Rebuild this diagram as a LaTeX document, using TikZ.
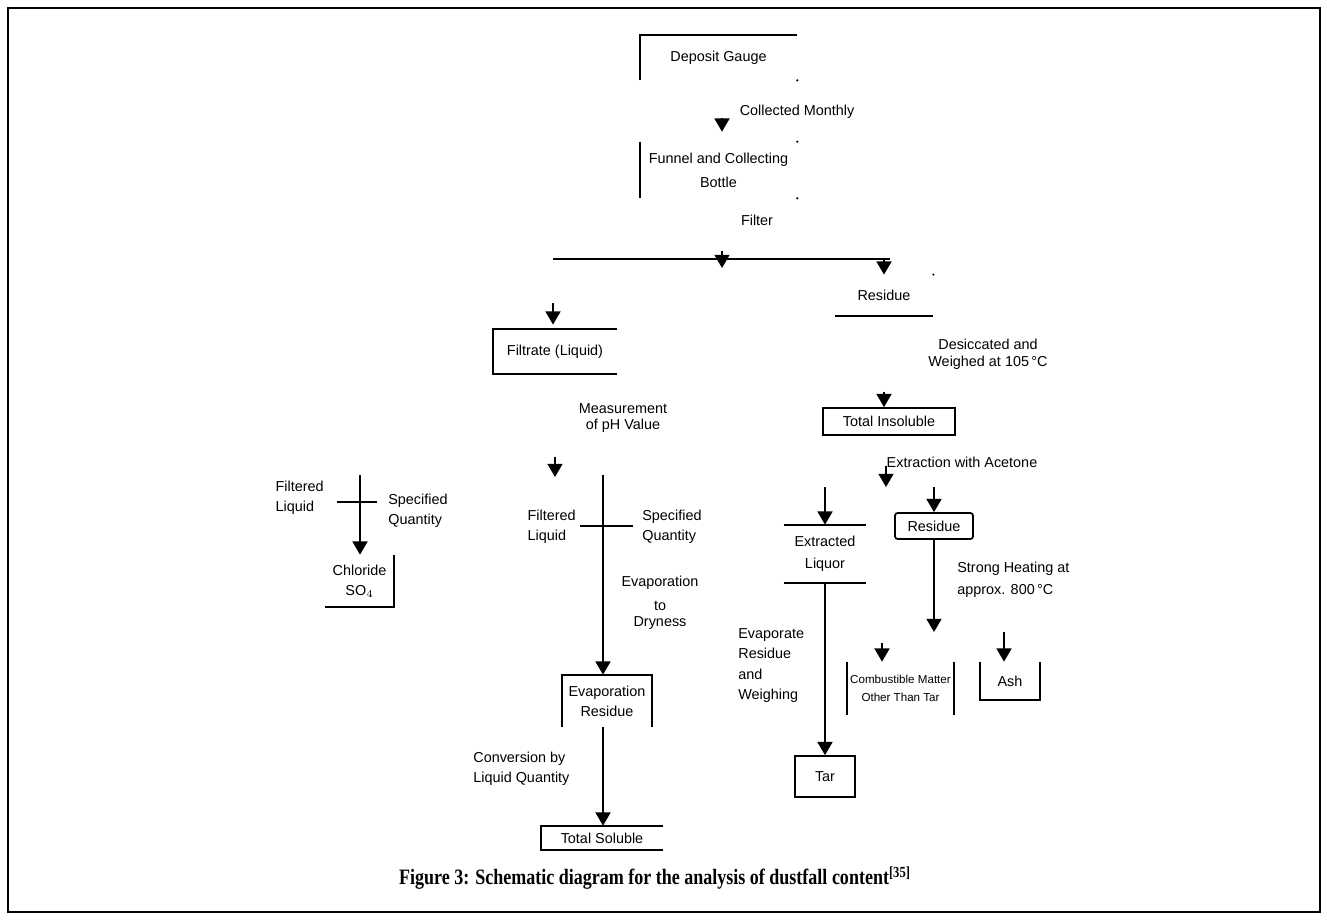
\documentclass[tikz,border=0pt]{standalone}
\usepackage{fontspec}
\setmainfont{Liberation Serif}
\setsansfont{Liberation Sans}
\newfontfamily\capfont[FakeStretch=0.82]{Liberation Serif}
\usetikzlibrary{arrows.meta,positioning,calc}

\begin{document}
\begin{tikzpicture}[x=0.02cm, y=-0.02cm, font=\sffamily\fontsize{8.2}{11.5}\selectfont,
    box/.style={inner sep=0pt, align=center},
    lbl/.style={inner sep=0pt, align=center},
    edge/.style={line width=1pt},
    arr/.style={line width=1pt, -{Triangle[width=8.5pt,length=7.5pt]}},
    stub/.style={arr, shorten <=#1}]
    \useasboundingbox (0,0) rectangle (1327,919);
    \draw[line width=0.8pt] (8,8) rectangle (1320,912);

    % boxes
    \node[box, minimum width=3.14cm, minimum height=0.9cm] (gauge) at (718.5,57.5) {Deposit Gauge};
    \node[box, minimum width=3.14cm, minimum height=1.12cm] (funnel) at (718.5,170) {Funnel and Collecting\\[2pt]Bottle};
    \node[box, minimum width=2.48cm, minimum height=0.9cm] (filtrate) at (555,351.5) {Filtrate (Liquid)};
    \node[box, minimum width=1.96cm, minimum height=0.82cm] (residue) at (884,295.5) {Residue};
    \node[box, draw, line width=1pt, minimum width=2.64cm, minimum height=0.54cm] (insol) at (889,421.5) {Total Insoluble};
    \node[box, minimum width=1.64cm, minimum height=1.16cm] (extract) at (825,554) {Extracted\\[1pt]Liquor};
    \node[box, draw, line width=1pt, rounded corners=1.5pt, minimum width=1.56cm, minimum height=0.52cm] (resid2) at (934,526) {Residue};
    \node[box, font=\sffamily\fontsize{6.6}{10.5}\selectfont, minimum width=2.14cm, minimum height=1.06cm] (combust) at (900.5,688.5) {Combustible Matter\\Other Than Tar};
    \node[box, minimum width=1.2cm, minimum height=0.76cm] (ash) at (1010,681) {Ash};
    \node[box, draw, line width=1pt, minimum width=1.2cm, minimum height=0.82cm] (tar) at (825,776.5) {Tar};
    \node[box, minimum width=1.8cm, minimum height=1.04cm] (evapres) at (607,701) {Evaporation\\Residue};
    \node[box, minimum width=2.44cm, minimum height=0.48cm] (total) at (602,838) {Total Soluble};
    \node[box, minimum width=1.38cm, minimum height=1.04cm] (ions) at (359.5,581) {Chloride\\SO$_4$};

    % open borders
    \draw[edge] (gauge.south west) |- (gauge.north east);
    \draw[edge] (funnel.north west) -- (funnel.south west);
    \draw[edge] (filtrate.north east) -- (filtrate.north west) -- (filtrate.south west) -- (filtrate.south east);
    \draw[edge] (residue.south west) -- (residue.south east);
    \draw[edge] (extract.north west) -- (extract.north east);
    \draw[edge] (extract.south west) -- (extract.south east);
    \draw[edge] (combust.north west) -- (combust.south west);
    \draw[edge] (combust.north east) -- (combust.south east);
    \draw[edge] (ash.north west) -- (ash.south west) -- (ash.south east) -- (ash.north east);
    \draw[edge] (evapres.south west) -- (evapres.north west) -- (evapres.north east) -- (evapres.south east);
    \draw[edge] (total.north east) -- (total.north west) -- (total.south west) -- (total.south east);
    \draw[edge] (ions.north east) -- (ions.south east) -- (ions.south west);
    \foreach \c in {gauge.south east, funnel.north east, funnel.south east, residue.north east}
        \fill (\c) circle (1.2);

    % labels
    \node[lbl] (monthly) at (797,112) {Collected Monthly};
    \node[lbl] (filter) at (757,220) {Filter};
    \node[lbl] (dry) at (988,354) {Desiccated and\\[-2pt]Weighed at 105\,°C};
    \node[lbl] (meas) at (623,418) {Measurement\\[-2pt]of pH Value};
    \node[lbl] (acet) at (962,462) {Extraction with Acetone};
    \node[lbl, anchor=west, align=left] (heat) at (957,580) {Strong Heating at\\[1pt]approx. 800\,°C};
    \node[lbl, anchor=west, align=left] (weigh) at (738,665.5) {Evaporate\\Residue\\and\\Weighing};
    \node[lbl] (dryness) at (660,603) {Evaporation\\[2pt]to\\[-2pt]Dryness};
    \node[lbl, anchor=west, align=left] (conv) at (473,769) {Conversion by\\Liquid Quantity};
    \node[lbl, anchor=east, align=left] (filtR) at (576,526.5) {Filtered\\Liquid};
    \node[lbl, anchor=west, align=left] (specR) at (642,526.5) {Specified\\Quantity};
    \node[lbl, anchor=east, align=left] (filtL) at (324,498) {Filtered\\Liquid};
    \node[lbl, anchor=west, align=left] (specL) at (388,511) {Specified\\Quantity};
    \node[font=\capfont\bfseries\fontsize{12.5}{14}\selectfont, inner sep=0pt] (caption) at (655,878)
        {Figure 3: Schematic diagram for the analysis of dustfall content\textsuperscript{[35]}};

    % split points
    \coordinate (drop) at (722,268);
    \coordinate (busL) at (553,259);
    \coordinate (busR) at (890,259);
    \coordinate (split2) at (886,487);
    \coordinate (split3) at (932,632);
    \coordinate (split4) at (555,477);
    \coordinate (crossL) at (360,475);
    \coordinate (crossR) at (603,475);
    \coordinate (cin) at ([xshift=-0.37cm]combust.north);
    \coordinate (ain) at ([xshift=-0.12cm]ash.north);

    % connectors
    \draw[stub=21.5pt, shorten >=5.7pt] (gauge.south -| drop) -- (funnel.north -| drop);
    \draw[stub=30pt] (funnel.south -| drop) -- (drop);
    \draw[edge] (busL) -- (busR);
    \draw[stub=25pt, shorten >=2.3pt] (busL) -- (busL |- filtrate.north);
    \draw[arr] (residue.north |- busR) -- (residue.north);
    \draw[stub=43pt] (residue.south) -- (residue.south |- insol.north);
    \draw[stub=17pt] (insol.south -| split2) -- (split2);
    \draw[arr] (split2 -| extract.north) -- (extract.north);
    \draw[arr] (split2 -| resid2.north) -- (resid2.north);
    \draw[arr] (extract.south) -- (tar.north);
    \draw[arr] (resid2.south) -- (resid2.south |- split3);
    \draw[stub=6pt] (cin |- split3) -- (cin);
    \draw[arr] (ain |- split3) -- (ain);
    \draw[stub=47pt] (filtrate.south) -- (split4);
    \draw[edge] (580,526) -- (633,526);
    \draw[arr] (crossR) -- (crossR |- evapres.north);
    \draw[arr] (crossR |- evapres.south) -- (crossR |- total.north);
    \draw[edge] (337,502) -- (377,502);
    \draw[arr] (crossL) -- (crossL |- ions.north);
\end{tikzpicture}
\end{document}
